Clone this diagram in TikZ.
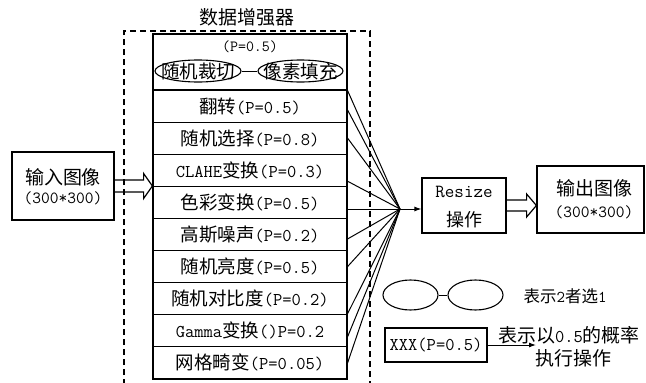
\documentclass[tikz,border=0pt]{standalone}
\usepackage{fontspec}
\newfontfamily\cjkfont{Noto Sans CJK SC}
\usetikzlibrary{shapes.geometric,arrows.meta,calc}
\newcommand\zh[1]{{\cjkfont\fontsize{18.5}{20}\selectfont #1}}
\newcommand\zhs[2]{{\cjkfont\fontsize{#1}{20}\selectfont #2}}
\newcommand\tts[2]{{\ttfamily\fontsize{#1}{20}\selectfont #2}}
\tikzset{
  box/.style={draw, line width=1.2pt, inner sep=0pt, align=center,
    font=\ttfamily\fontsize{18}{20}\selectfont},
  row/.style={box, minimum width=194pt, minimum height=32.1pt},
  txt/.style={inner sep=0pt, align=center, font=\ttfamily\fontsize{18}{20}\selectfont},
  oval/.style={ellipse, draw, line width=1.1pt, inner sep=0pt},
  conn/.style={line width=1pt},
  blockarrow/.style={line width=1.2pt, line join=miter},
  dashbox/.style={line width=1.2pt, dash pattern=on 6pt off 4pt},
  tip/.style={-{Latex[length=7pt,width=5pt]}, line width=1pt}
}
\begin{document}
\begin{tikzpicture}[x=1pt,y=-1pt]
\useasboundingbox (0,0) rectangle (646,383);
% dashed container and title
\draw[dashbox] (124,395) -- (124,31) -- (370,31) -- (370,395);
\node[txt] (title) at (247,17) {\zhs{19}{数据增强器}};
% top box with ellipses
\node[box, minimum width=194pt, minimum height=56pt] (r0) at (250,62) {};
\node[txt] (p0) at (250,47) {\tts{15.5}{(P=0.5)}};
\node[oval, minimum width=86pt, minimum height=22pt] (e1) at (198,71) {};
\node[oval, minimum width=85pt, minimum height=22pt] (e2) at (300.5,71) {};
\node[txt] (e1t) at (e1) {\zhs{18.5}{随机裁切}};
\node[txt] (e2t) at (e2) {\zhs{18.5}{像素填充}};
\draw[conn] (e1.east) -- (e2.west);
% rows
\node[row] (r1) at (250,106.05) {\zh{翻转}(P=0.5)};
\node[row] (r2) at (250,138.15) {\zh{随机选择}(P=0.8)};
\node[row] (r3) at (250,170.25) {CLAHE\zh{变换}(P=0.3)};
\node[row] (r4) at (250,202.35) {\zh{色彩变换}(P=0.5)};
\node[row] (r5) at (250,234.45) {\zh{高斯噪声}(P=0.2)};
\node[row] (r6) at (250,266.55) {\zh{随机亮度}(P=0.5)};
\node[row] (r7) at (250,298.65) {\zh{随机对比度}(P=0.2)};
\node[row] (r8) at (250,330.75) {Gamma\zh{变换}()P=0.2};
\node[row] (r9) at (250,362.85) {\zh{网格畸变}(P=0.05)};
% input
\node[box, minimum width=102pt, minimum height=68pt] (in) at (63,186) {};
\node[txt] (in1) at (63,177) {\zhs{19}{输入图像}};
\node[txt] (in2) at (63,198) {\tts{17}{(300*300)}};
\draw[blockarrow] ($(in.east)+(0,-6)$) -- ($(in.east)+(29,-6)$) -- ($(in.east)+(29,-12.5)$)
  -- (in.east -| r0.west) -- ($(in.east)+(29,12.5)$) -- ($(in.east)+(29,6)$) -- ($(in.east)+(0,6)$);
% convergence
\coordinate (cv) at (400,209);
\draw[conn] (r0.south east) -- (cv);
\draw[conn] ($(r1.east)+(0,4)$) -- (cv);
\draw[conn] (r2.east) -- (cv);
\draw[conn] ($(r3.east)+(0,11)$) -- (cv);
\draw[conn] (cv -| r4.east) -- (cv);
\draw[conn] ($(r5.east)+(0,4.5)$) -- (cv);
\draw[conn] (r6.east) -- (cv);
\draw[conn] ($(r7.east)+(0,15)$) -- (cv);
\draw[conn] ($(r8.east)+(0,6)$) -- (cv);
\draw[conn] (r9.east) -- (cv);
% resize
\node[box, minimum width=84pt, minimum height=55pt] (rs) at (464,205.5) {};
\node[txt] (rs1) at (464,192) {\tts{18.5}{Resize}};
\node[txt] (rs2) at (464,220) {\zhs{18}{操作}};
\draw[tip] (cv) -- (cv -| rs.west);
% output
\node[box, minimum width=107pt, minimum height=67pt] (out) at (590.5,199.5) {};
\node[txt] (out1) at (594,188) {\zhs{19}{输出图像}};
\node[txt] (out2) at (594,212) {\tts{17}{(300*300)}};
\draw[blockarrow] ($(rs.east)+(0,-5.5)$) -- ($(rs.east)+(20,-5.5)$) -- ($(rs.east)+(20,-11.5)$)
  -- (rs.east -| out.west) -- ($(rs.east)+(20,11.5)$) -- ($(rs.east)+(20,5.5)$) -- ($(rs.east)+(0,5.5)$);
% legend
\node[oval, minimum width=55pt, minimum height=30pt] (l1) at (410.5,295) {};
\node[oval, minimum width=55pt, minimum height=30pt] (l2) at (475.5,295) {};
\draw[conn] (l1.east) -- (l2.west);
\node[txt] (lt1) at (565,296) {\zhs{16.5}{表示}\tts{16.5}{2}\zhs{16.5}{者选}\tts{16.5}{1}};
\node[box, minimum width=102pt, minimum height=34pt] (xb) at (436,345) {XXX(P=0.5)};
\coordinate (xe) at (536,345);
\draw[tip] (xb.east) -- (xe);
\node[txt] (lt2) at (569,335.5) {\zhs{19}{表示以}0.5\zhs{19}{的概率}};
\node[txt] (lt3) at (573,358) {\zhs{19}{执行操作}};
\end{tikzpicture}
\end{document}
